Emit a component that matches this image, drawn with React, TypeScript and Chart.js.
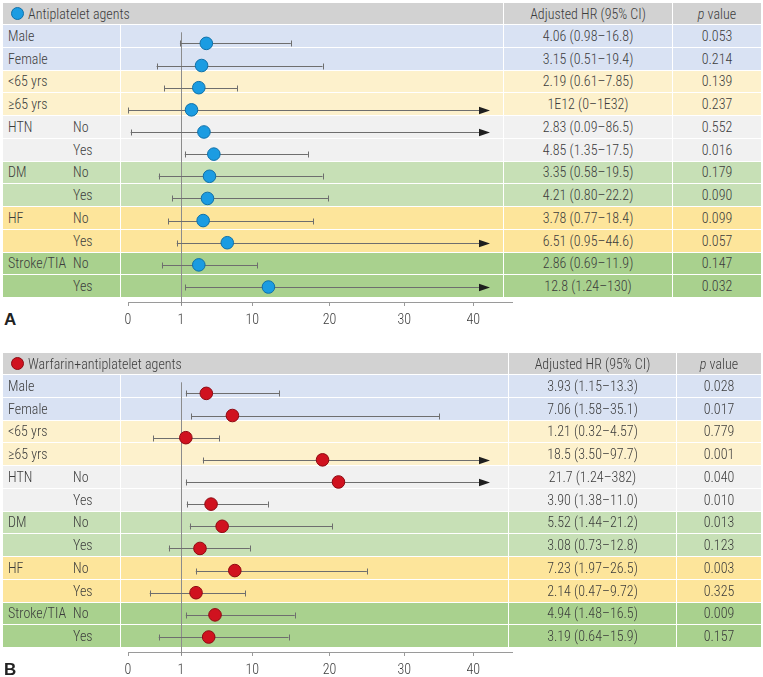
import React, { useEffect, useRef } from "react";
import { Chart, registerables } from "chart.js";

Chart.register(...registerables);

// ---------------- data ----------------
const GROUP_LABELS = ["Male", "Female", "<65 yrs", "≥65 yrs", "HTN", "", "DM", "", "HF", "", "Stroke/TIA", ""];
const SUB_LABELS = ["", "", "", "", "No", "Yes", "No", "Yes", "No", "Yes", "No", "Yes"];
const ROW_BAND = [0, 0, 1, 1, 2, 2, 3, 3, 4, 4, 5, 5];

const TICK_VALUES = [0, 1, 10, 20, 30, 40];
const TICK_LABELS = ["0", "1", "10", "20", "30", "40"];
const REF_VALUE = 1;

// Panel A – antiplatelet agents (marks as drawn)
const AP_TITLE = "Antiplatelet agents";
const AP_HR = [4.2, 3.6, 3.25, 2.33, 3.9, 5.15, 4.6, 4.35, 3.8, 6.85, 3.25, 12.1];
const AP_LO = [0.98, 0.54, 0.68, 0, 0.05, 1.48, 0.58, 0.83, 0.76, 0.92, 0.64, 1.53];
const AP_HI = [15.0, 19.1, 8.1, 1e32, 86.5, 17.2, 19.1, 19.8, 17.9, 44.6, 10.65, 130];
const AP_HR_TEXT = [
  "4.06 (0.98–16.8)", "3.15 (0.51–19.4)", "2.19 (0.61–7.85)", "1E12 (0–1E32)",
  "2.83 (0.09–86.5)", "4.85 (1.35–17.5)", "3.35 (0.58–19.5)", "4.21 (0.80–22.2)",
  "3.78 (0.77–18.4)", "6.51 (0.95–44.6)", "2.86 (0.69–11.9)", "12.8 (1.24–130)",
];
const AP_P = ["0.053", "0.214", "0.139", "0.237", "0.552", "0.016", "0.179", "0.090", "0.099", "0.057", "0.147", "0.032"];

// Panel B – warfarin + antiplatelet agents (marks as drawn)
const WA_TITLE = "Warfarin+antiplatelet agents";
const WA_HR = [4.2, 7.5, 1.61, 19.1, 21.2, 4.8, 6.2, 3.4, 7.8, 2.9, 5.3, 4.5];
const WA_LO = [1.61, 2.29, 0.48, 3.76, 1.61, 1.73, 2.11, 0.77, 2.87, 0.41, 1.61, 0.58];
const WA_HI = [13.5, 35.1, 5.8, 97.7, 382, 12.0, 20.4, 9.7, 25.0, 9.1, 15.5, 14.7];
const WA_HR_TEXT = [
  "3.93 (1.15–13.3)", "7.06 (1.58–35.1)", "1.21 (0.32–4.57)", "18.5 (3.50–97.7)",
  "21.7 (1.24–382)", "3.90 (1.38–11.0)", "5.52 (1.44–21.2)", "3.08 (0.73–12.8)",
  "7.23 (1.97–26.5)", "2.14 (0.47–9.72)", "4.94 (1.48–16.5)", "3.19 (0.64–15.9)",
];
const WA_P = ["0.028", "0.017", "0.779", "0.001", "0.040", "0.010", "0.013", "0.123", "0.003", "0.325", "0.009", "0.157"];

// ---------------- layout / style ----------------
const BAND_COLORS = ["#d9e2f3", "#fdf1cc", "#f1f1f1", "#c7e0b6", "#fde59b", "#a9d18e"];
const HEADER_BG = "#d2d2d2";
const TEXT_COLOR = "#3c3c3c";
const FONT = '"Liberation Sans Narrow", "Arial Narrow", "Roboto Condensed", "DejaVu Sans Condensed", "Liberation Sans", sans-serif';
const FONT_SIZE = 14;
const FONT_WEIGHT = 300;

// axis positions of the tick values (piecewise axis), in px from the "0" tick
const TICK_POS = [0, 53, 124.2, 201.5, 276.2, 345.2];
const AXIS_END = 384;
const ARROW_TIP_POS = 362;

const ROW_H = 22.75;
const HEADER_H = 22;
const TABLE_LEFT = 3;
const TABLE_RIGHT = 761;
const LABEL_COL_R = 120;
const PLOT_AREA_H = 277; // rows top to axis line
const AXIS_H = 30;
const PAD_LEFT = 12;
const CANVAS_LEFT = 127.5 - PAD_LEFT;
const CANVAS_W = 408;
const PAD_RIGHT = CANVAS_W - PAD_LEFT - AXIS_END;

function posOf(v: number): number {
  const n = TICK_VALUES.length;
  if (v <= TICK_VALUES[0]) return TICK_POS[0];
  for (let i = 1; i < n; i++) {
    if (v <= TICK_VALUES[i]) {
      const t = (v - TICK_VALUES[i - 1]) / (TICK_VALUES[i] - TICK_VALUES[i - 1]);
      return TICK_POS[i - 1] + t * (TICK_POS[i] - TICK_POS[i - 1]);
    }
  }
  const slope = (TICK_POS[n - 1] - TICK_POS[n - 2]) / (TICK_VALUES[n - 1] - TICK_VALUES[n - 2]);
  return TICK_POS[n - 1] + (v - TICK_VALUES[n - 1]) * slope;
}

type PanelProps = {
  top: number;
  letter: string;
  title: string;
  hr: number[];
  lo: number[];
  hi: number[];
  hrText: string[];
  pText: string[];
  fill: string;
  stroke: string;
  plotRight: number;
  hrRight: number;
};

function ForestChart(props: { hr: number[]; lo: number[]; hi: number[]; fill: string; stroke: string }) {
  const ref = useRef<HTMLCanvasElement | null>(null);
  useEffect(() => {
    if (!ref.current) return;
    const { hr, lo, hi, fill, stroke } = props;
    const whiskers = {
      id: "whiskers",
      beforeDatasetsDraw(chart: any) {
        const { ctx, chartArea, scales } = chart;
        const x = scales.x;
        const y = scales.y;
        ctx.save();
        // reference line
        const rx = Math.floor(x.getPixelForValue(posOf(REF_VALUE))) + 0.5;
        ctx.strokeStyle = "#8c8c8c";
        ctx.lineWidth = 1;
        ctx.beginPath();
        ctx.moveTo(rx, chartArea.top);
        ctx.lineTo(rx, chartArea.bottom + 3);
        ctx.stroke();
        // CI whiskers
        for (let i = 0; i < hr.length; i++) {
          const yy = Math.round(y.getPixelForValue(i + 0.5)) + 0.5;
          const xl = x.getPixelForValue(posOf(lo[i]));
          const hp = posOf(hi[i]);
          const arrow = hp > ARROW_TIP_POS;
          const xh = x.getPixelForValue(arrow ? ARROW_TIP_POS : hp);
          ctx.strokeStyle = "#6e6e6e";
          ctx.lineWidth = 1;
          ctx.beginPath();
          ctx.moveTo(xl, yy);
          ctx.lineTo(arrow ? xh - 8 : xh, yy);
          ctx.moveTo(Math.round(xl) + 0.5, yy - 3);
          ctx.lineTo(Math.round(xl) + 0.5, yy + 3);
          if (!arrow) {
            ctx.moveTo(Math.round(xh) + 0.5, yy - 3);
            ctx.lineTo(Math.round(xh) + 0.5, yy + 3);
          }
          ctx.stroke();
          if (arrow) {
            ctx.fillStyle = "#1e1e1e";
            ctx.beginPath();
            ctx.moveTo(xh, yy);
            ctx.lineTo(xh - 11, yy - 3.8);
            ctx.lineTo(xh - 11, yy + 3.8);
            ctx.closePath();
            ctx.fill();
          }
        }
        ctx.restore();
      },
    };
    const chart = new Chart(ref.current, {
      type: "scatter",
      data: {
        datasets: [
          {
            data: hr.map((v, i) => ({ x: posOf(v), y: i + 0.5 })),
            pointRadius: 6.3,
            pointHoverRadius: 6.3,
            pointBackgroundColor: fill,
            pointBorderColor: stroke,
            pointBorderWidth: 1,
            clip: false as any,
          },
        ],
      },
      options: {
        animation: false,
        responsive: false,
        maintainAspectRatio: false,
        events: [],
        layout: { padding: { left: PAD_LEFT, right: PAD_RIGHT, top: 0, bottom: 0 } },
        plugins: { legend: { display: false }, tooltip: { enabled: false } },
        scales: {
          x: {
            type: "linear",
            min: 0,
            max: AXIS_END,
            afterBuildTicks: (s: any) => {
              s.ticks = TICK_POS.map((v) => ({ value: v }));
            },
            afterFit: (s: any) => {
              s.height = AXIS_H;
            },
            ticks: {
              callback: (_v: any, i: number) => TICK_LABELS[i],
              color: TEXT_COLOR,
              font: { family: FONT, size: FONT_SIZE, weight: FONT_WEIGHT },
              padding: 6,
              autoSkip: false,
              maxRotation: 0,
            },
            grid: { display: true, drawOnChartArea: false, drawTicks: true, tickLength: 4, color: "#9a9a9a" },
            border: { display: true, color: "#9a9a9a", width: 1 },
          },
          y: { type: "linear", reverse: true, min: 0, max: PLOT_AREA_H / ROW_H, display: false },
        },
      } as any,
      plugins: [whiskers],
    });
    return () => chart.destroy();
  }, []);
  return (
    <canvas
      ref={ref}
      width={CANVAS_W}
      height={PLOT_AREA_H + AXIS_H}
      style={{ position: "absolute", left: CANVAS_LEFT, top: 0, width: CANVAS_W, height: PLOT_AREA_H + AXIS_H }}
    />
  );
}

function Cell(p: { left: number; right: number; top: number; height: number; bg: string; children?: any; align?: string; padLeft?: number }) {
  return (
    <div
      style={{
        position: "absolute",
        left: p.left,
        top: p.top,
        width: p.right - p.left,
        height: p.height,
        background: p.bg,
        display: "flex",
        alignItems: "center",
        justifyContent: p.align === "center" ? "center" : "flex-start",
        paddingLeft: p.padLeft || 0,
        boxSizing: "border-box",
        whiteSpace: "nowrap",
      }}
    >
      {p.children}
    </div>
  );
}

function Panel(p: PanelProps) {
  const rowsTop = p.top + HEADER_H;
  const cells: any[] = [];
  cells.push(
    <Cell key="h0" left={TABLE_LEFT} right={p.plotRight} top={p.top} height={HEADER_H - 1} bg={HEADER_BG} padLeft={8}>
      <span
        style={{
          display: "inline-block",
          width: 11,
          height: 11,
          borderRadius: "50%",
          background: p.fill,
          border: `1px solid ${p.stroke}`,
          marginRight: 4,
        }}
      />
      <span>{p.title}</span>
    </Cell>
  );
  cells.push(
    <Cell key="h1" left={p.plotRight + 1} right={p.hrRight} top={p.top} height={HEADER_H - 1} bg={HEADER_BG} align="center">
      Adjusted HR (95% CI)
    </Cell>
  );
  cells.push(
    <Cell key="h2" left={p.hrRight + 1} right={TABLE_RIGHT} top={p.top} height={HEADER_H - 1} bg={HEADER_BG} align="center">
      <span>
        <i>p</i> value
      </span>
    </Cell>
  );
  for (let i = 0; i < GROUP_LABELS.length; i++) {
    const t = rowsTop + i * ROW_H;
    const h = ROW_H - 1;
    const bg = BAND_COLORS[ROW_BAND[i]];
    cells.push(
      <Cell key={"l" + i} left={TABLE_LEFT} right={LABEL_COL_R} top={t} height={h} bg={bg} padLeft={5}>
        <span style={{ position: "absolute", left: 5 }}>{GROUP_LABELS[i]}</span>
        <span style={{ position: "absolute", left: 70 }}>{SUB_LABELS[i]}</span>
      </Cell>
    );
    cells.push(<Cell key={"c" + i} left={LABEL_COL_R + 1} right={p.plotRight} top={t} height={h} bg={bg} />);
    cells.push(
      <Cell key={"r" + i} left={p.plotRight + 1} right={p.hrRight} top={t} height={h} bg={bg} align="center">
        {p.hrText[i]}
      </Cell>
    );
    cells.push(
      <Cell key={"p" + i} left={p.hrRight + 1} right={TABLE_RIGHT} top={t} height={h} bg={bg} align="center">
        {p.pText[i]}
      </Cell>
    );
  }
  return (
    <div style={{ position: "absolute", left: 0, top: 0, width: 763, height: 677 }}>
      {cells}
      <div style={{ position: "absolute", left: 0, top: rowsTop, width: 763, height: PLOT_AREA_H + AXIS_H }}>
        <ForestChart hr={p.hr} lo={p.lo} hi={p.hi} fill={p.fill} stroke={p.stroke} />
      </div>
      <div
        style={{
          position: "absolute",
          left: 4,
          top: rowsTop + PLOT_AREA_H + 8,
          fontWeight: "bold",
          fontSize: 17,
          fontFamily: '"Liberation Sans", Arial, sans-serif',
          color: "#222",
        }}
      >
        {p.letter}
      </div>
    </div>
  );
}

export default function App() {
  return (
    <div
      style={{
        position: "absolute",
        left: 0,
        top: 0,
        width: 763,
        height: 677,
        background: "#ffffff",
        fontFamily: FONT,
        fontSize: FONT_SIZE,
        fontWeight: FONT_WEIGHT,
        color: TEXT_COLOR,
        overflow: "hidden",
      }}
    >
      <Panel
        top={3}
        letter="A"
        title={AP_TITLE}
        hr={AP_HR}
        lo={AP_LO}
        hi={AP_HI}
        hrText={AP_HR_TEXT}
        pText={AP_P}
        fill="#1b9ce2"
        stroke="#1070a8"
        plotRight={503}
        hrRight={672}
      />
      <Panel
        top={353}
        letter="B"
        title={WA_TITLE}
        hr={WA_HR}
        lo={WA_LO}
        hi={WA_HI}
        hrText={WA_HR_TEXT}
        pText={WA_P}
        fill="#d0121f"
        stroke="#8e0a12"
        plotRight={508}
        hrRight={676}
      />
    </div>
  );
}
